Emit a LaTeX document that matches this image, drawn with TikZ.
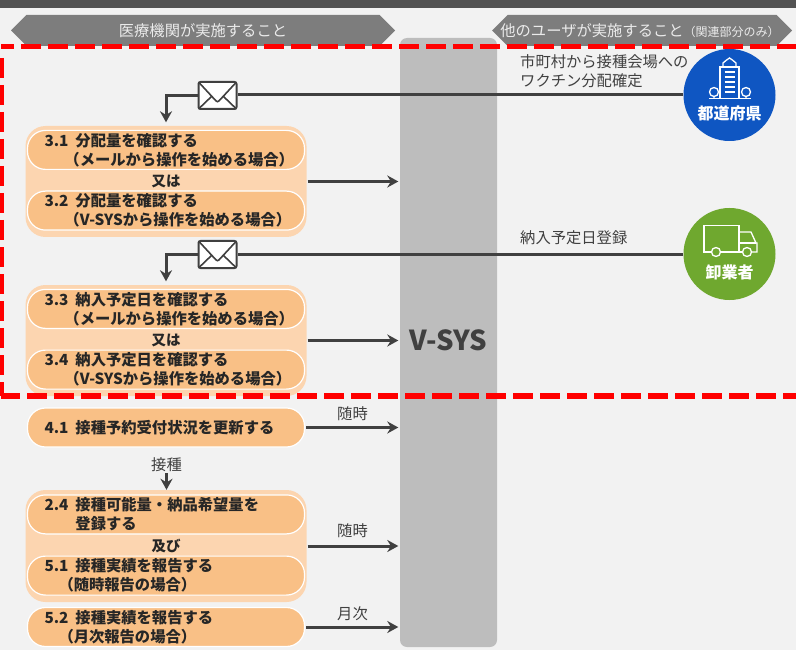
\documentclass[tikz,border=0pt]{standalone}
\usepackage{fontspec}
\setmainfont{Noto Sans CJK JP}
\usetikzlibrary{positioning,arrows.meta,shapes.symbols}
\definecolor{pagegray}{HTML}{F2F2F2}
\definecolor{bargray}{HTML}{BDBDBD}
\definecolor{headgray}{HTML}{7D7D7D}
\definecolor{linegray}{HTML}{404040}
\definecolor{pillorange}{HTML}{F9C086}
\definecolor{grouporange}{HTML}{FCD5B0}
\definecolor{prefblue}{HTML}{0F56C2}
\definecolor{dealergreen}{HTML}{6FA82F}
\newcommand{\stepno}[2]{\raisebox{-4.5pt}{\makebox[31pt][l]{#1}#2}}
\newcommand{\stepmore}[2]{\hspace*{#1}\raisebox{-5pt}{#2}}
\begin{document}
\begin{tikzpicture}[x=1pt,y=-1pt,
main/.style={font=\fontsize{15.3}{18.5}\selectfont,text=black!85,inner sep=1pt},
pill/.style={draw=white,line width=1.2pt,fill=pillorange,rounded corners=18pt,minimum width=277pt,minimum height=39pt,text width=243pt,inner xsep=17pt,inner ysep=0pt,align=left,font=\fontsize{15.3}{18.5}\selectfont\bfseries,text=black!85},
groupbox/.style={fill=grouporange,rounded corners=20pt,minimum width=281pt},
orword/.style={main,font=\fontsize{14.5}{19}\selectfont\bfseries},
header/.style={signal,signal to=east and west,signal pointer angle=90,fill=headgray,text=white!92!black,minimum height=31pt,inner sep=0pt,font=\fontsize{15.3}{18}\selectfont},
org/.style={circle,minimum size=92pt,inner sep=0pt},
orgname/.style={text=white,inner sep=0pt,font=\fontsize{16}{18}\selectfont\bfseries},
note/.style={main,text=linegray,align=left},
flow/.style={-{Stealth[length=11pt,width=12pt]},line width=3pt,draw=linegray},
feed/.style={line width=3pt,draw=linegray},
icon/.style={draw=white,line width=1.3pt},
mailbox/.style={draw=linegray,line width=2pt,fill=white,rounded corners=2pt,minimum width=38pt,minimum height=27pt,inner sep=0pt,
 path picture={\draw[linegray,line width=1.6pt]
 (path picture bounding box.north west) -- ([yshift=-7pt]path picture bounding box.center) -- (path picture bounding box.north east)
 (path picture bounding box.south west) -- ([xshift=-6pt,yshift=-1pt]path picture bounding box.center)
 (path picture bounding box.south east) -- ([xshift=6pt,yshift=-1pt]path picture bounding box.center);}},
redline/.style={draw=red,line width=5.5pt,dash pattern=on 20pt off 7pt}]

\useasboundingbox (0,0) rectangle (796,650);
\fill[pagegray] (0,0) rectangle (796,650);
\fill[black!68] (0,0) rectangle (796,8);

\node[header,minimum width=384pt] (headleft) at (203,30.5) {医療機関が実施すること};
\node[header,minimum width=300pt] (headright) at (642,30.5) {\makebox[250pt][c]{\hspace*{-4pt}他のユーザが実施すること{\fontsize{12}{13}\selectfont（関連部分のみ）}}};

\node[rectangle,fill=bargray,rounded corners=7pt,minimum width=97pt,minimum height=609pt] (vsys) at (448.5,342.5) {};
\node[text=linegray,font=\fontsize{27.5}{30}\selectfont\bfseries] (vsysname) at (448.5,340) {V-SYS};

\node[org,fill=prefblue] (pref) at (729.5,95) {};
\node[org,fill=dealergreen] (dealer) at (729.5,254) {};
\node[orgname] (prefname) at (729.5,113) {都道府県};
\node[orgname] (dealername) at (729.5,272.5) {卸業者};

\node[groupbox,minimum height=111pt] (box1) at (166,181.5) {};
\node[pill,below=4pt of box1.north] (p31) {\stepno{3.1}{分配量を確認する}\\\stepmore{20pt}{（メールから操作を始める場合）}};
\node[pill,above=6.5pt of box1.south] (p32) {\stepno{3.2}{分配量を確認する}\\\stepmore{20pt}{（V-SYSから操作を始める場合）}};
\node[orword] (or1) at (box1) {又は};

\node[groupbox,minimum height=111pt] (box2) at (166,340.5) {};
\node[pill,below=4pt of box2.north] (p33) {\stepno{3.3}{納入予定日を確認する}\\\stepmore{20pt}{（メールから操作を始める場合）}};
\node[pill,above=6.5pt of box2.south] (p34) {\stepno{3.4}{納入予定日を確認する}\\\stepmore{20pt}{（V-SYSから操作を始める場合）}};
\node[orword] (or2) at (box2) {又は};

\node[pill] (p41) at (166,427.5) {\stepno{4.1}{接種予約受付状況を更新する}};

\node[groupbox,minimum height=112pt] (box3) at (166,546) {};
\node[pill,below=4.5pt of box3.north] (p24) {\stepno{2.4}{接種可能量・納品希望量を}\\\stepmore{31pt}{登録する}};
\node[pill,above=6.5pt of box3.south] (p51) {\stepno{5.1}{接種実績を報告する}\\\stepmore{14pt}{（随時報告の場合）}};
\node[orword] (and1) at (box3) {及び};

\node[pill] (p52) at (166,627) {\stepno{5.2}{接種実績を報告する}\\\stepmore{14pt}{（月次報告の場合）}};

\node[mailbox] (mail1) at (217.5,95.5) {};
\node[mailbox] (mail2) at (217.5,254.5) {};

\node[note,anchor=west] (msg1) at (519,71) {市町村から接種会場への\\ワクチン分配確定};
\node[note,anchor=west] (msg2) at (519,238) {納入予定日登録};
\node[note] (any1) at (352.5,414) {随時};
\node[note] (any2) at (352.5,531) {随時};
\node[note] (month) at (352.5,614) {月次};
\node[note] (vacc) at (166.5,465) {接種};

\draw[feed] (pref.west) -- (pref.west -| mail1.east);
\draw[flow,shorten >=3.5pt] (mail1.west) -| (box1.north);
\draw[feed] (dealer.west) -- (dealer.west -| mail2.east);
\draw[flow,shorten >=3.5pt] (mail2.west) -| (box2.north);

\draw[flow,shorten <=1pt,shorten >=1.5pt] (box1.east) -- (box1.east -| vsys.west);
\draw[flow,shorten <=1pt,shorten >=1.5pt] (box2.east) -- (box2.east -| vsys.west);
\draw[flow,shorten <=1pt,shorten >=1.5pt] (p41.east) -- (p41.east -| vsys.west);
\draw[flow,shorten <=1pt,shorten >=1.5pt] (box3.east) -- (box3.east -| vsys.west);
\draw[flow,shorten <=1pt,shorten >=1.5pt] (p52.east) -- (p52.east -| vsys.west);
\draw[flow] (vacc.south) -- (vacc.south |- box3.north);

\draw[icon] (720,98) -- (720,67) -- (739,67) -- (739,98);
\draw[icon] (723,67) -- (723,63) .. controls (725,60) and (728,60) .. (729.5,58) .. controls (731,60) and (734,60) .. (736,63) -- (736,67);
\foreach \y in {72,77,82,87,92} {\draw[white,line width=1.1pt] (724.5,\y) -- (734.5,\y);}
\draw[icon] (709,98.5) -- (751,98.5);
\draw[icon] (714,92) circle[radius=4.5pt] (714,96.5) -- (714,98.5);
\draw[icon] (746,92) circle[radius=4.5pt] (746,96.5) -- (746,98.5);

\draw[icon] (711.5,252) -- (704,252) -- (704,225.5) -- (739,225.5) -- (739,252) -- (721,252);
\draw[icon] (739,232) -- (751,232) -- (756,243) -- (757,243) -- (757,252) -- (752,252);
\draw[icon] (739,243) -- (756,243);
\draw[icon] (739,252) -- (742.5,252);
\draw[icon] (716,252) circle[radius=4.5pt];
\draw[icon] (747,252) circle[radius=4.5pt];

\coordinate (nw) at (1,46.5);
\coordinate (ne) at (796,46.5);
\coordinate (sw) at (1,396);
\coordinate (se) at (796,396);
\draw[redline,dash phase=7pt] (nw) -- (ne);
\draw[redline] (1,58) -- (sw);
\draw[redline,dash phase=1pt] (sw) -- (se);

\end{tikzpicture}
\end{document}
